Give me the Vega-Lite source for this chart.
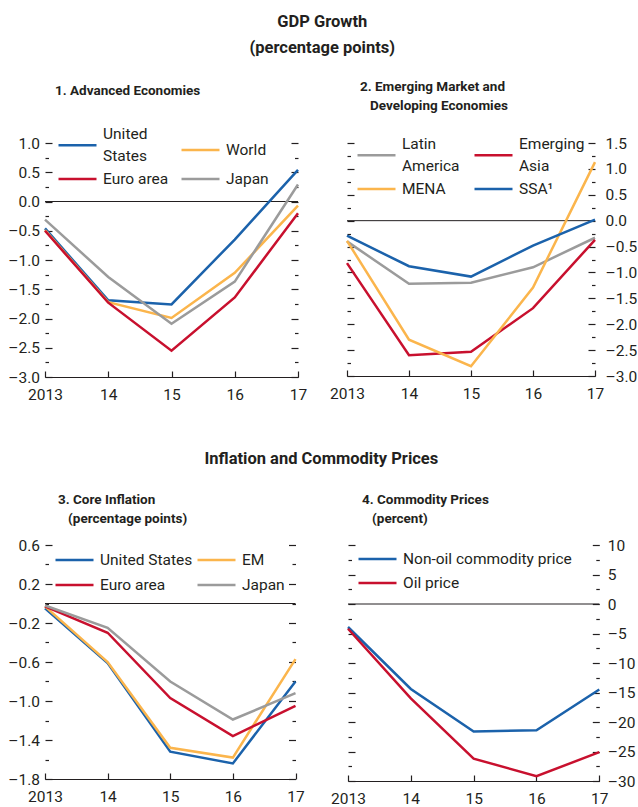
{
  "$schema": "https://vega.github.io/schema/vega-lite/v6.json",
  "padding": {"left": 7, "top": 14, "right": 0, "bottom": 0},
  "background": "white",
  "config": {
    "font": "Roboto",
    "view": {"stroke": null},
    "axis": {"labelFont": "Roboto", "labelFontSize": 15.5, "labelColor": "#231f20", "tickColor": "#231f20", "domainColor": "#231f20", "grid": false, "title": null, "tickWidth": 1.2, "labelOverlap": false, "labelFlush": false},
    "legend": {"orient": "none", "symbolType": "stroke", "symbolStrokeWidth": 2.6, "symbolSize": 1444, "clipHeight": 20, "labelFont": "Roboto", "labelFontSize": 15.5, "labelColor": "#231f20", "labelOffset": 5, "columnPadding": 19, "padding": 0, "labelLimit": 300, "title": null},
    "title": {"font": "Roboto", "color": "#231f20", "fontWeight": "bold"}
  },
  "resolve": {"scale": {"color": "independent"}, "legend": {"color": "independent"}},
  "vconcat": [
    {
      "title": {"text": ["GDP Growth", "(percentage points)"], "fontSize": 16.5, "lineHeight": 26, "anchor": "middle", "offset": 23},
      "bounds": "flush",
      "spacing": 49,
      "resolve": {"scale": {"color": "independent"}, "legend": {"color": "independent"}},
      "hconcat": [
        {
          "width": 253, "height": 234,
          "title": {"text": ["1. Advanced Economies", "\u00a0"], "anchor": "start", "frame": "group", "dx": 10, "fontSize": 13.5, "lineHeight": 19, "offset": 19},
          "data": {"values": [
            {"year": 2013, "series": "United States", "value": -0.46},
            {"year": 2014, "series": "United States", "value": -1.69},
            {"year": 2015, "series": "United States", "value": -1.76},
            {"year": 2016, "series": "United States", "value": -0.65},
            {"year": 2017, "series": "United States", "value": 0.54},
            {"year": 2013, "series": "World", "value": -0.49},
            {"year": 2014, "series": "World", "value": -1.72},
            {"year": 2015, "series": "World", "value": -1.99},
            {"year": 2016, "series": "World", "value": -1.22},
            {"year": 2017, "series": "World", "value": -0.07},
            {"year": 2013, "series": "Euro area", "value": -0.5},
            {"year": 2014, "series": "Euro area", "value": -1.73},
            {"year": 2015, "series": "Euro area", "value": -2.55},
            {"year": 2016, "series": "Euro area", "value": -1.64},
            {"year": 2017, "series": "Euro area", "value": -0.2},
            {"year": 2013, "series": "Japan", "value": -0.31},
            {"year": 2014, "series": "Japan", "value": -1.29},
            {"year": 2015, "series": "Japan", "value": -2.09},
            {"year": 2016, "series": "Japan", "value": -1.37},
            {"year": 2017, "series": "Japan", "value": 0.29}
          ]},
          "layer": [
            {
              "data": {"values": [{"z": 0}]},
              "mark": {"type": "rule", "color": "#231f20", "strokeWidth": 1},
              "encoding": {"y": {"field": "z", "type": "quantitative", "scale": {"domain": [-3, 1], "nice": false, "zero": false},
                "axis": {"orient": "right", "labels": false, "domain": false, "values": [-3, -2.75, -2.5, -2.25, -2, -1.75, -1.5, -1.25, -1, -0.75, -0.5, -0.25, 0, 0.25, 0.5, 0.75, 1],
                  "tickSize": {"condition": {"test": "abs(datum.value*2 - round(datum.value*2)) < 0.01", "value": -7}, "value": -3.5}}}}
            },
            {
              "mark": {"type": "line", "strokeWidth": 2.5},
              "encoding": {
                "x": {"field": "year", "type": "quantitative", "scale": {"domain": [2013, 2017], "nice": false, "zero": false},
                  "axis": {"values": [2013, 2014, 2015, 2016, 2017], "labelExpr": "datum.value == 2013 ? '2013' : format(datum.value - 2000, 'd')", "tickSize": -6, "labelPadding": 16}},
                "y": {"field": "value", "type": "quantitative", "scale": {"domain": [-3, 1], "nice": false, "zero": false},
                  "axis": {"orient": "left", "domain": false, "values": [-3, -2.75, -2.5, -2.25, -2, -1.75, -1.5, -1.25, -1, -0.75, -0.5, -0.25, 0, 0.25, 0.5, 0.75, 1],
                    "labelExpr": "abs(datum.value*2 - round(datum.value*2)) < 0.01 ? (datum.value < -0.001 ? '\u2013' : '') + format(abs(datum.value), '.1f') : ''",
                    "labelPadding": 12.5,
                    "tickSize": {"condition": {"test": "abs(datum.value*2 - round(datum.value*2)) < 0.01", "value": -7}, "value": -3.5}}},
                "color": {"field": "series", "type": "nominal",
                  "scale": {"domain": ["United States", "Euro area", "World", "Japan"], "range": ["#1b62ab", "#c8102e", "#fbb54c", "#9b9b9b"]},
                  "legend": {"columns": 2, "legendX": 12, "legendY": -8, "rowPadding": 4, "columnPadding": 11,
                    "labelExpr": "datum.label == 'United States' ? ['United', 'States'] : datum.label",
                    "encode": {"labels": {"update": {"dy": {"signal": "datum.label == 'United States' ? -11 : 0"}, "lineHeight": {"value": 22}}}}}}
              }
            }
          ],
          "resolve": {"axis": {"y": "independent"}}
        },
        {
          "width": 248, "height": 233,
          "title": {"text": ["2. Emerging Market and", "\u200d\u00a0\u00a0\u00a0Developing Economies"], "anchor": "start", "frame": "group", "dx": 13, "fontSize": 13.5, "lineHeight": 19, "offset": 24},
          "data": {"values": [
            {"year": 2013, "series": "Latin America", "value": -0.4},
            {"year": 2014, "series": "Latin America", "value": -1.22},
            {"year": 2015, "series": "Latin America", "value": -1.2},
            {"year": 2016, "series": "Latin America", "value": -0.9},
            {"year": 2017, "series": "Latin America", "value": -0.33},
            {"year": 2013, "series": "Emerging Asia", "value": -0.82},
            {"year": 2014, "series": "Emerging Asia", "value": -2.6},
            {"year": 2015, "series": "Emerging Asia", "value": -2.53},
            {"year": 2016, "series": "Emerging Asia", "value": -1.69},
            {"year": 2017, "series": "Emerging Asia", "value": -0.37},
            {"year": 2013, "series": "MENA", "value": -0.39},
            {"year": 2014, "series": "MENA", "value": -2.3},
            {"year": 2015, "series": "MENA", "value": -2.81},
            {"year": 2016, "series": "MENA", "value": -1.29},
            {"year": 2017, "series": "MENA", "value": 1.13},
            {"year": 2013, "series": "SSA\u00b9", "value": -0.29},
            {"year": 2014, "series": "SSA\u00b9", "value": -0.88},
            {"year": 2015, "series": "SSA\u00b9", "value": -1.08},
            {"year": 2016, "series": "SSA\u00b9", "value": -0.48},
            {"year": 2017, "series": "SSA\u00b9", "value": 0.02}
          ]},
          "layer": [
            {
              "data": {"values": [{"z": 0}]},
              "mark": {"type": "rule", "color": "#231f20", "strokeWidth": 1},
              "encoding": {"y": {"field": "z", "type": "quantitative", "scale": {"domain": [-3, 1.5], "nice": false, "zero": false},
                "axis": {"orient": "left", "labels": false, "domain": false, "values": [-3, -2.75, -2.5, -2.25, -2, -1.75, -1.5, -1.25, -1, -0.75, -0.5, -0.25, 0, 0.25, 0.5, 0.75, 1, 1.25, 1.5],
                  "tickSize": {"condition": {"test": "abs(datum.value*2 - round(datum.value*2)) < 0.01", "value": -7}, "value": -3.5}}}}
            },
            {
              "mark": {"type": "line", "strokeWidth": 2.5},
              "encoding": {
                "x": {"field": "year", "type": "quantitative", "scale": {"domain": [2013, 2017], "nice": false, "zero": false},
                  "axis": {"values": [2013, 2014, 2015, 2016, 2017], "labelExpr": "datum.value == 2013 ? '2013' : format(datum.value - 2000, 'd')", "tickSize": -6, "labelPadding": 16}},
                "y": {"field": "value", "type": "quantitative", "scale": {"domain": [-3, 1.5], "nice": false, "zero": false},
                  "axis": {"orient": "right", "domain": false, "values": [-3, -2.75, -2.5, -2.25, -2, -1.75, -1.5, -1.25, -1, -0.75, -0.5, -0.25, 0, 0.25, 0.5, 0.75, 1, 1.25, 1.5],
                    "labelExpr": "abs(datum.value*2 - round(datum.value*2)) < 0.01 ? (datum.value < -0.001 ? '\u2013' : '') + format(abs(datum.value), '.1f') : ''",
                    "labelPadding": 17,
                    "tickSize": {"condition": {"test": "abs(datum.value*2 - round(datum.value*2)) < 0.01", "value": -7}, "value": -3.5}}},
                "color": {"field": "series", "type": "nominal",
                  "scale": {"domain": ["Latin America", "MENA", "Emerging Asia", "SSA\u00b9"], "range": ["#9b9b9b", "#fbb54c", "#c8102e", "#1b62ab"]},
                  "legend": {"columns": 2, "legendX": 9, "legendY": 2, "rowPadding": 4, "columnPadding": 13,
                    "labelExpr": "datum.label == 'Latin America' ? ['Latin', 'America'] : datum.label == 'Emerging Asia' ? ['Emerging', 'Asia'] : datum.label",
                    "encode": {"labels": {"update": {"dy": {"signal": "datum.label == 'Latin America' || datum.label == 'Emerging Asia' ? -11 : 0"}, "lineHeight": {"value": 22}}}}}}
              }
            }
          ],
          "resolve": {"axis": {"y": "independent"}}
        }
      ]
    },
    {
      "title": {"text": "Inflation and Commodity Prices", "fontSize": 16.5, "anchor": "middle", "offset": 25},
      "bounds": "flush",
      "spacing": 52,
      "resolve": {"scale": {"color": "independent"}, "legend": {"color": "independent"}},
      "hconcat": [
        {
          "width": 250.5, "height": 234,
          "title": {"text": ["3. Core Inflation", "\u200d\u00a0\u00a0\u00a0(percentage points)"], "anchor": "start", "frame": "group", "dx": 13, "fontSize": 13.5, "lineHeight": 19, "offset": 13},
          "data": {"values": [
            {"year": 2013, "series": "United States", "value": -0.05},
            {"year": 2014, "series": "United States", "value": -0.61},
            {"year": 2015, "series": "United States", "value": -1.52},
            {"year": 2016, "series": "United States", "value": -1.64},
            {"year": 2017, "series": "United States", "value": -0.8},
            {"year": 2013, "series": "EM", "value": -0.03},
            {"year": 2014, "series": "EM", "value": -0.6},
            {"year": 2015, "series": "EM", "value": -1.48},
            {"year": 2016, "series": "EM", "value": -1.58},
            {"year": 2017, "series": "EM", "value": -0.57},
            {"year": 2013, "series": "Euro area", "value": -0.03},
            {"year": 2014, "series": "Euro area", "value": -0.3},
            {"year": 2015, "series": "Euro area", "value": -0.97},
            {"year": 2016, "series": "Euro area", "value": -1.36},
            {"year": 2017, "series": "Euro area", "value": -1.05},
            {"year": 2013, "series": "Japan", "value": -0.02},
            {"year": 2014, "series": "Japan", "value": -0.25},
            {"year": 2015, "series": "Japan", "value": -0.8},
            {"year": 2016, "series": "Japan", "value": -1.19},
            {"year": 2017, "series": "Japan", "value": -0.92}
          ]},
          "layer": [
            {
              "data": {"values": [{"z": 0}]},
              "mark": {"type": "rule", "color": "#231f20", "strokeWidth": 1},
              "encoding": {"y": {"field": "z", "type": "quantitative", "scale": {"domain": [-1.8, 0.6], "nice": false, "zero": false},
                "axis": {"orient": "right", "labels": false, "domain": false, "values": [-1.8, -1.6, -1.4, -1.2, -1, -0.8, -0.6, -0.4, -0.2, 0, 0.2, 0.4, 0.6],
                  "tickSize": {"condition": {"test": "abs((datum.value+1.8)/0.4 - round((datum.value+1.8)/0.4)) < 0.01", "value": -7}, "value": -3.5}}}}
            },
            {
              "mark": {"type": "line", "strokeWidth": 2.5},
              "encoding": {
                "x": {"field": "year", "type": "quantitative", "scale": {"domain": [2013, 2017], "nice": false, "zero": false},
                  "axis": {"values": [2013, 2014, 2015, 2016, 2017], "labelExpr": "datum.value == 2013 ? '2013' : format(datum.value - 2000, 'd')", "tickSize": -6, "labelPadding": 16}},
                "y": {"field": "value", "type": "quantitative", "scale": {"domain": [-1.8, 0.6], "nice": false, "zero": false},
                  "axis": {"orient": "left", "domain": false, "values": [-1.8, -1.6, -1.4, -1.2, -1, -0.8, -0.6, -0.4, -0.2, 0, 0.2, 0.4, 0.6],
                    "labelExpr": "abs((datum.value+1.8)/0.4 - round((datum.value+1.8)/0.4)) < 0.01 ? (datum.value < -0.001 ? '\u2013' : '') + format(abs(datum.value), '.1f') : ''",
                    "labelPadding": 12.5,
                    "tickSize": {"condition": {"test": "abs((datum.value+1.8)/0.4 - round((datum.value+1.8)/0.4)) < 0.01", "value": -7}, "value": -3.5}}},
                "color": {"field": "series", "type": "nominal",
                  "scale": {"domain": ["United States", "Euro area", "EM", "Japan"], "range": ["#1b62ab", "#c8102e", "#fbb54c", "#9b9b9b"]},
                  "legend": {"columns": 2, "legendX": 9, "legendY": 5, "rowPadding": 5, "columnPadding": 3}}
              }
            }
          ],
          "resolve": {"axis": {"y": "independent"}}
        },
        {
          "width": 251.3, "height": 236,
          "title": {"text": ["4. Commodity Prices", "\u200d\u00a0\u00a0\u00a0(percent)"], "anchor": "start", "frame": "group", "dx": 14, "fontSize": 13.5, "lineHeight": 19, "offset": 13},
          "data": {"values": [
            {"year": 2013, "series": "Non-oil commodity price", "value": -3.9},
            {"year": 2014, "series": "Non-oil commodity price", "value": -14.4},
            {"year": 2015, "series": "Non-oil commodity price", "value": -21.6},
            {"year": 2016, "series": "Non-oil commodity price", "value": -21.4},
            {"year": 2017, "series": "Non-oil commodity price", "value": -14.5},
            {"year": 2013, "series": "Oil price", "value": -4.2},
            {"year": 2014, "series": "Oil price", "value": -16.0},
            {"year": 2015, "series": "Oil price", "value": -26.2},
            {"year": 2016, "series": "Oil price", "value": -29.2},
            {"year": 2017, "series": "Oil price", "value": -25.1}
          ]},
          "layer": [
            {
              "data": {"values": [{"z": 0}]},
              "mark": {"type": "rule", "color": "#231f20", "strokeWidth": 1},
              "encoding": {"y": {"field": "z", "type": "quantitative", "scale": {"domain": [-30, 10], "nice": false, "zero": false},
                "axis": {"orient": "left", "labels": false, "domain": false, "values": [-30, -27.5, -25, -22.5, -20, -17.5, -15, -12.5, -10, -7.5, -5, -2.5, 0, 2.5, 5, 7.5, 10],
                  "tickSize": {"condition": {"test": "abs(datum.value/5 - round(datum.value/5)) < 0.01", "value": -7}, "value": -3.5}}}}
            },
            {
              "mark": {"type": "line", "strokeWidth": 2.5},
              "encoding": {
                "x": {"field": "year", "type": "quantitative", "scale": {"domain": [2013, 2017], "nice": false, "zero": false},
                  "axis": {"values": [2013, 2014, 2015, 2016, 2017], "labelExpr": "datum.value == 2013 ? '2013' : format(datum.value - 2000, 'd')", "tickSize": -6, "labelPadding": 16}},
                "y": {"field": "value", "type": "quantitative", "scale": {"domain": [-30, 10], "nice": false, "zero": false},
                  "axis": {"orient": "right", "domain": false, "values": [-30, -27.5, -25, -22.5, -20, -17.5, -15, -12.5, -10, -7.5, -5, -2.5, 0, 2.5, 5, 7.5, 10],
                    "labelExpr": "abs(datum.value/5 - round(datum.value/5)) < 0.01 ? (datum.value < -0.001 ? '\u2013' : '') + format(abs(datum.value), 'd') : ''",
                    "labelPadding": 15,
                    "tickSize": {"condition": {"test": "abs(datum.value/5 - round(datum.value/5)) < 0.01", "value": -7}, "value": -3.5}}},
                "color": {"field": "series", "type": "nominal",
                  "scale": {"domain": ["Non-oil commodity price", "Oil price"], "range": ["#1b62ab", "#c8102e"]},
                  "legend": {"columns": 1, "legendX": 9, "legendY": 4, "rowPadding": 4}}
              }
            }
          ],
          "resolve": {"axis": {"y": "independent"}}
        }
      ]
    }
  ],
  "spacing": 48
}
